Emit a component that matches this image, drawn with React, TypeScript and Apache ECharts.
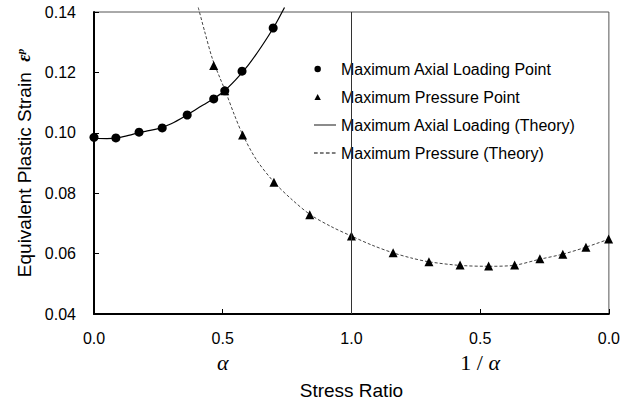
import React, { useEffect, useRef } from "react";
import * as echarts from "echarts";

// Tick labels
const xTickLabels = ["0.0", "0.5", "1.0", "0.5", "0.0"];
const ratioLabels = ["", "{i|α}", "", "{n|1 / }{i|α}", ""];

// Measured points: Maximum Axial Loading Point
const axialPoints: [number, number][] = [
  [0.0, 0.0985], [0.085, 0.0983], [0.175, 0.1002], [0.265, 0.1016], [0.362, 0.1059],
  [0.465, 0.1112], [0.508, 0.1139], [0.575, 0.1204], [0.696, 0.1347],
];

// Measured points: Maximum Pressure Point
const pressurePoints: [number, number][] = [
  [0.465, 0.1223], [0.508, 0.1139], [0.577, 0.0993], [0.699, 0.0836], [0.838, 0.0729],
  [1.0, 0.0658], [1.162, 0.0603], [1.301, 0.0573], [1.422, 0.0562], [1.533, 0.0559],
  [1.634, 0.0562], [1.732, 0.0583], [1.821, 0.0598], [1.911, 0.0621], [1.999, 0.0648],
];

// Theory curve: Maximum Axial Loading
const axialTheory: [number, number][] = [
  [0.0, 0.0982], [0.05, 0.0981], [0.1, 0.0985], [0.15, 0.0995], [0.2, 0.1005],
  [0.25, 0.1014], [0.3, 0.103], [0.35, 0.1053], [0.4, 0.108], [0.45, 0.1105],
  [0.5, 0.1134], [0.55, 0.1175], [0.6, 0.1225], [0.65, 0.1285], [0.7, 0.1352],
  [0.74, 0.1415],
];

// Theory curve: Maximum Pressure
const pressureTheory: [number, number][] = [
  [0.405, 0.1415], [0.43, 0.1335], [0.46, 0.1245], [0.49, 0.118], [0.51, 0.1139],
  [0.545, 0.106], [0.577, 0.0995], [0.63, 0.0912], [0.7, 0.0836], [0.77, 0.0778],
  [0.84, 0.0729], [0.92, 0.069], [1.0, 0.0658], [1.08, 0.0628], [1.16, 0.0603],
  [1.23, 0.0586], [1.3, 0.0573], [1.42, 0.0561], [1.53, 0.0558], [1.63, 0.0561],
  [1.73, 0.0581], [1.82, 0.0598], [1.91, 0.0621], [2.0, 0.0648],
];

const seriesNames = [
  "Maximum Axial Loading Point",
  "Maximum Pressure Point",
  "Maximum Axial Loading (Theory)",
  "Maximum Pressure (Theory)",
];

const FONT = "'Liberation Sans', Arial, sans-serif";
const SERIF = "'Liberation Serif', 'Times New Roman', serif";

const circleIcon = "path://M0,0M24,8M0.5,4a3.5,3.5 0 1,0 7,0a3.5,3.5 0 1,0 -7,0Z";
const triIcon = "path://M0,0M24,8M4,0.8L7.5,7.2H0.5Z";
const solidIcon = "path://M0,0M24,8M0,3.5H24V4.5H0Z";
const dashIcon = "path://M0,0M24,8M0,3.5H4V4.5H0ZM6.5,3.5H10.5V4.5H6.5ZM13,3.5H17V4.5H13ZM19.5,3.5H23.5V4.5H19.5Z";

export default function App() {
  const ref = useRef<HTMLDivElement>(null);
  useEffect(() => {
    if (!ref.current) return;
    const chart = echarts.init(ref.current, undefined, { renderer: "svg" });
    chart.setOption({
      animation: false,
      backgroundColor: "#fff",
      grid: {
        left: 94, right: 11, top: 12, bottom: 89,
        show: true, borderColor: "#555", borderWidth: 1, backgroundColor: "transparent",
      },
      legend: {
        orient: "vertical",
        left: 309,
        top: 56,
        padding: [5, 8, 9, 5],
        itemGap: 12,
        itemWidth: 22,
        itemHeight: 8,
        backgroundColor: "#fff",
        textStyle: { fontFamily: FONT, fontSize: 16, color: "#000" },
        data: [
          { name: seriesNames[0], icon: circleIcon },
          { name: seriesNames[1], icon: triIcon },
          { name: seriesNames[2], icon: solidIcon, itemStyle: { color: "#000", borderWidth: 0 }, lineStyle: { width: 0, opacity: 0 } },
          { name: seriesNames[3], icon: dashIcon, itemStyle: { color: "#000", borderWidth: 0 }, lineStyle: { width: 0, opacity: 0 } },
        ],
      },
      xAxis: [
        {
          type: "value", min: 0, max: 2, interval: 0.5, position: "bottom",
          axisLine: { show: true, onZero: false, lineStyle: { color: "#000", width: 2 } },
          axisTick: { show: true, inside: true, length: 5, lineStyle: { color: "#000" } },
          splitLine: { show: false },
          axisLabel: {
            fontFamily: FONT, fontSize: 16, color: "#000", margin: 16,
            formatter: (v: number) => xTickLabels[Math.round(v / 0.5)] ?? "",
          },
          name: "Stress Ratio",
          nameLocation: "middle",
          nameGap: 67,
          nameTextStyle: { fontFamily: FONT, fontSize: 19, color: "#000" },
        },
        {
          type: "value", min: 0, max: 2, interval: 0.5, position: "bottom", offset: 0,
          axisLine: { show: false },
          axisTick: { show: false },
          splitLine: { show: false },
          axisLabel: {
            margin: 37,
            formatter: (v: number) => ratioLabels[Math.round(v / 0.5)] ?? "",
            rich: {
              i: { fontFamily: SERIF, fontStyle: "italic", fontSize: 22, color: "#000" },
              n: { fontFamily: SERIF, fontSize: 22, color: "#000" },
            },
          },
        },
      ],
      yAxis: {
        type: "value", min: 0.04, max: 0.14, interval: 0.02,
        axisLine: { show: true, onZero: false, lineStyle: { color: "#000", width: 2 } },
        axisTick: { show: true, inside: true, length: 5, lineStyle: { color: "#000" } },
        splitLine: { show: false },
        axisLabel: {
          fontFamily: FONT, fontSize: 16, color: "#000", margin: 18,
          formatter: (v: number) => v.toFixed(2),
        },
        name: "{t|Equivalent Plastic Strain  }{e|ε}{s|p}",
        nameLocation: "middle",
        nameRotate: 90,
        nameGap: 58,
        nameTextStyle: {
          rich: {
            t: { fontFamily: FONT, fontSize: 19, color: "#000" },
            e: { fontFamily: SERIF, fontSize: 18, fontStyle: "italic", fontWeight: "bold", color: "#000" },
            s: { fontFamily: SERIF, fontSize: 11, fontStyle: "italic", fontWeight: "bold", color: "#000", verticalAlign: "top" },
          },
        },
      },
      series: [
        {
          name: seriesNames[2], type: "line", data: axialTheory, smooth: 0.3, showSymbol: false, symbol: "none",
          clip: false, z: 3,
          lineStyle: { color: "#000", width: 1.2, type: "solid" },
          itemStyle: { color: "#000" },
          markLine: {
            silent: true, symbol: "none", label: { show: false },
            lineStyle: { color: "#333", width: 1, type: "solid" },
            data: [{ xAxis: 1 }],
          },
        },
        {
          name: seriesNames[3], type: "line", data: pressureTheory, smooth: 0.3, showSymbol: false, symbol: "none",
          clip: false, z: 3,
          lineStyle: { color: "#444", width: 1, type: [3, 2] },
          itemStyle: { color: "#444" },
        },
        {
          name: seriesNames[0], type: "scatter", data: axialPoints, symbol: "circle", symbolSize: 9,
          itemStyle: { color: "#000", opacity: 1 }, z: 4,
        },
        {
          name: seriesNames[1], type: "scatter", data: pressurePoints, symbol: "triangle", symbolSize: 9,
          itemStyle: { color: "#000", opacity: 1 }, z: 4,
        },
      ],
    });
    return () => chart.dispose();
  }, []);
  return <div ref={ref} style={{ position: "fixed", left: 0, top: 0, width: 623, height: 405 }} />;
}
